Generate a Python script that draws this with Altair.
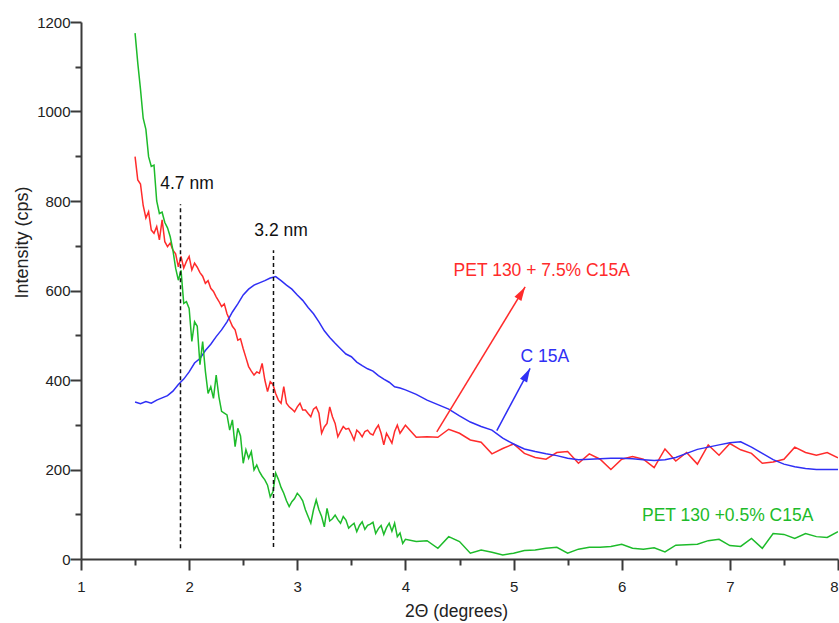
import altair as alt
import pandas as pd

# ---------------- data ----------------
# dense sampling region (2-theta 1.5 .. 3.975, step 0.025)
x_dense = [round(1.5 + 0.025 * i, 3) for i in range(100)]
# coarse sampling region (2-theta 4.0 .. 8.0, step 0.1)
x_coarse = [round(4.0 + 0.1 * i, 1) for i in range(41)]

red_dense = [899, 847, 838, 790, 762, 776, 735, 728, 743, 713,
             758, 709, 698, 706, 690, 682, 653, 676, 650, 665,
             676, 646, 661, 652, 640, 632, 616, 622, 605, 598,
             586, 576, 564, 570, 548, 534, 520, 512, 489, 492,
             470, 450, 430, 420, 411, 418, 415, 437, 400, 374,
             396, 390, 370, 355, 348, 385, 348, 340, 335, 329,
             340, 348, 333, 333, 325, 318, 335, 340, 326, 281,
             295, 303, 340, 318, 303, 273, 285, 296, 290, 292,
             280, 266, 288, 282, 273, 285, 288, 280, 277, 290,
             299, 281, 255, 281, 270, 259, 285, 299, 281, 290]
red_coarse = [299, 272, 273, 272, 290, 281, 266, 261, 235, 247,
              257, 236, 227, 223, 238, 240, 214, 235, 223, 200,
              223, 229, 223, 204, 246, 219, 238, 212, 255, 232,
              258, 244, 236, 214, 217, 223, 250, 238, 232, 238, 226]

green_dense = [1175, 1108, 1050, 985, 960, 899, 877, 880, 800, 772,
               775, 752, 740, 720, 690, 650, 623, 645, 571, 575,
               560, 486, 530, 520, 434, 486, 420, 370, 385, 359,
               411, 363, 330, 326, 322, 288, 311, 251, 292, 275,
               214, 244, 225, 240, 199, 210, 195, 185, 177, 165,
               139, 150, 192, 178, 160, 147, 130, 117, 128, 135,
               147, 140, 130, 110, 95, 80, 110, 132, 110, 95,
               72, 113, 85, 90, 98, 88, 80, 95, 87, 69,
               75, 80, 61, 75, 83, 66, 75, 78, 82, 57,
               68, 75, 55, 70, 80, 62, 80, 50, 58, 35]
green_coarse = [44, 39, 41, 24, 50, 39, 13, 20, 15, 9,
                13, 19, 20, 24, 26, 13, 22, 26, 26, 28,
                33, 24, 22, 25, 16, 31, 32, 33, 41, 44,
                30, 28, 46, 24, 57, 55, 46, 57, 50, 48, 61]

x_blue_dense = [round(1.5 + 0.05 * i, 2) for i in range(51)]
blue_dense = [351, 347, 352, 348, 355, 360, 365, 375, 390, 402,
              418, 438, 448, 466, 480, 497, 512, 530, 552, 570,
              590, 603, 612, 617, 622, 628, 631, 622, 612, 603,
              590, 578, 562, 548, 530, 510, 495, 482, 470, 458,
              452, 440, 432, 425, 420, 410, 402, 395, 385, 382, 378]
x_blue_coarse = [round(4.1 + 0.1 * i, 1) for i in range(40)]
blue_coarse = [368, 355, 345, 335, 320, 306, 296, 288, 270, 257,
               246, 240, 235, 231, 225, 222, 223, 224, 225, 225,
               224, 222, 220, 222, 227, 236, 245, 250, 255, 260,
               262, 250, 236, 222, 212, 206, 202, 200, 200, 200]

series_names = ["PET 130 + 7.5% C15A", "C 15A", "PET 130 +0.5% C15A"]
series_colors = ["#FF2B2B", "#2F2FF5", "#1DBB2A"]

# annotations
label_text = ["4.7 nm", "3.2 nm", "PET 130 + 7.5% C15A", "C 15A", "PET 130 +0.5% C15A"]
label_x = [1.98, 2.85, 5.26, 5.29, 6.98]
label_y = [838, 734, 644, 451, 97]
label_color = ["#111111", "#111111", "#FF2B2B", "#2F2FF5", "#1DBB2A"]

dash_x = [1.92, 2.78]
dash_y0 = [24, 27]
dash_y1 = [793, 690]

arrow_x0 = [4.29, 4.845]
arrow_y0 = [284, 287]
arrow_x1 = [5.107, 5.153]
arrow_y1 = [608, 426]
arrow_angle = [31, 28]
arrow_color = ["#FF2B2B", "#2F2FF5"]

x_major = [1, 2, 3, 4, 5, 6, 7]
x_last = [8]
x_minor = [1.5, 2.5, 3.5, 4.5, 5.5, 6.5, 7.5]
y_major = [0, 200, 400, 600, 800, 1000, 1200]
y_minor = [100, 300, 500, 700, 900, 1100]

# ---------------- tables ----------------
rows = []
for xs, ys in ((x_dense, red_dense), (x_coarse, red_coarse)):
    rows += [{"x": a, "y": b, "s": series_names[0]} for a, b in zip(xs, ys)]
for xs, ys in ((x_blue_dense, blue_dense), (x_blue_coarse, blue_coarse)):
    rows += [{"x": a, "y": b, "s": series_names[1]} for a, b in zip(xs, ys)]
for xs, ys in ((x_dense, green_dense), (x_coarse, green_coarse)):
    rows += [{"x": a, "y": b, "s": series_names[2]} for a, b in zip(xs, ys)]
df = pd.DataFrame(rows)

ann = pd.DataFrame({"t": label_text, "x": label_x, "y": label_y, "c": label_color})
dashes = pd.DataFrame({"x": dash_x, "y0": dash_y0, "y1": dash_y1})
arrows = pd.DataFrame({"x0": arrow_x0, "y0": arrow_y0, "x1": arrow_x1,
                       "y1": arrow_y1, "a": arrow_angle, "c": arrow_color})

FONT = "Liberation Sans"
AX = "#3a3a3a"
TXT = "#222222"
xscale = alt.Scale(domain=[1, 8], nice=False, zero=False)
yscale = alt.Scale(domain=[0, 1200], nice=False)

x_axis = alt.Axis(
    orient="bottom", values=x_major, tickSize=11, grid=False,
    title="2\u0398 (degrees)", titleFont=FONT, titleFontSize=17.5,
    titleFontWeight="normal", titleColor=TXT,
    titleX=375, titleY=52, titleAlign="center", titleBaseline="middle",
    labelFont=FONT, labelFontSize=15, labelColor=TXT, labelPadding=9,
    domainColor=AX, domainWidth=2, tickColor=AX, tickWidth=2,
    labelFlush=False, labelOverlap=False, format="d",
)
x_last_axis = alt.Axis(
    orient="bottom", values=x_last, tickSize=11, grid=False, domain=False, title=None,
    labelFont=FONT, labelFontSize=15, labelColor=TXT, labelPadding=9, labelAlign="right",
    tickColor=AX, tickWidth=2, labelFlush=False, labelOverlap=False, format="d",
)
y_axis = alt.Axis(
    orient="left", values=y_major, tickSize=11, grid=False,
    title="Intensity (cps)", titleFont=FONT, titleFontSize=18,
    titleFontWeight="normal", titleColor=TXT,
    titleX=-59, titleY=220, titleAngle=-90, titleAlign="center", titleBaseline="middle",
    labelFont=FONT, labelFontSize=15, labelColor=TXT, labelPadding=0,
    domainColor=AX, domainWidth=2, tickColor=AX, tickWidth=2,
    labelFlush=False, labelOverlap=False, format="d",
)
x_minor_axis = alt.Axis(
    orient="bottom", values=x_minor, tickSize=6, grid=False, labels=False,
    domain=False, title=None, tickColor=AX, tickWidth=2,
)
y_minor_axis = alt.Axis(
    orient="left", values=y_minor, tickSize=6, grid=False, labels=False,
    domain=False, title=None, tickColor=AX, tickWidth=2,
)

lines = alt.Chart(df).mark_line(strokeWidth=1.5, clip=True).encode(
    x=alt.X("x:Q", scale=xscale, axis=x_axis),
    y=alt.Y("y:Q", scale=yscale, axis=y_axis),
    color=alt.Color("s:N", scale=alt.Scale(domain=series_names, range=series_colors), legend=None),
    detail="s:N",
)

dash_layer = alt.Chart(dashes).mark_rule(strokeDash=[4, 3], strokeWidth=1.5, color="#111111").encode(
    x=alt.X("x:Q", scale=xscale, axis=x_minor_axis),
    y=alt.Y("y0:Q", scale=yscale, axis=y_minor_axis),
    y2="y1:Q",
)

arrow_lines = alt.Chart(arrows).mark_rule(strokeWidth=1.5).encode(
    x=alt.X("x0:Q", scale=xscale, axis=x_last_axis),
    y=alt.Y("y0:Q", scale=yscale, axis=None),
    x2="x1:Q", y2="y1:Q",
    color=alt.Color("c:N", scale=None),
)

arrow_heads = alt.Chart(arrows).mark_point(
    shape="M0,0L-0.36,1.25L0.36,1.25Z", filled=True, opacity=1, size=500, strokeWidth=0
).encode(
    x=alt.X("x1:Q", scale=xscale, axis=None),
    y=alt.Y("y1:Q", scale=yscale, axis=None),
    angle=alt.Angle("a:Q", scale=None),
    color=alt.Color("c:N", scale=None),
)

labels = alt.Chart(ann).mark_text(font=FONT, fontSize=17.5, align="center", baseline="middle").encode(
    x=alt.X("x:Q", scale=xscale, axis=None),
    y=alt.Y("y:Q", scale=yscale, axis=None),
    text="t:N",
    color=alt.Color("c:N", scale=None),
)

chart = alt.layer(lines, dash_layer, arrow_lines, arrow_heads, labels).resolve_axis(
    x="independent", y="independent"
).properties(
    width=757, height=537,
    autosize=alt.AutoSizeParams(type="none"),
    padding={"left": 81, "top": 22, "right": 1, "bottom": 64},
    background="white",
).configure_view(stroke=None)

chart.save("out.html", embed_options={"renderer": "svg", "actions": False})
